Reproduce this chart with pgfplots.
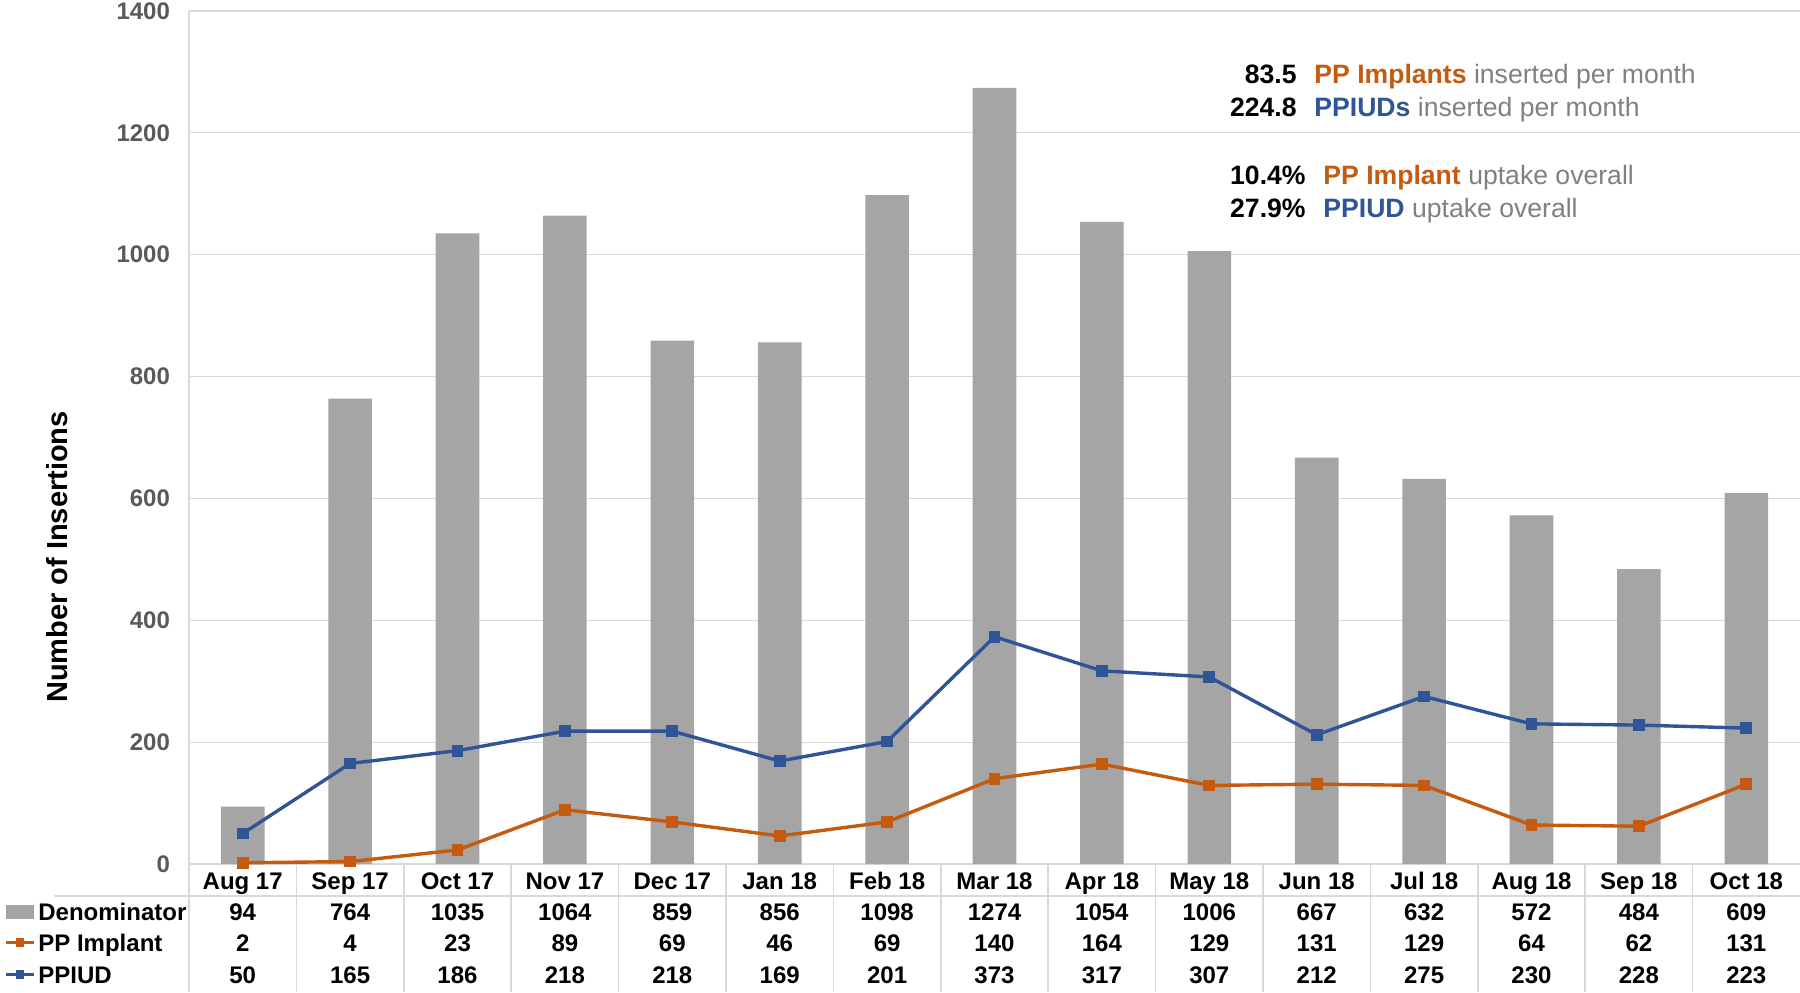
\documentclass[border=0pt]{standalone}
\usepackage{pgfplots}
\usepackage{pgfplotstable}
\pgfplotsset{compat=1.18}
\usepackage{fontspec}
\setmainfont{Liberation Sans}
\definecolor{barGray}{HTML}{A5A5A5}
\definecolor{impOr}{HTML}{C55A11}
\definecolor{iudBl}{HTML}{2F5597}
\definecolor{gridG}{HTML}{D9D9D9}
\definecolor{tickG}{HTML}{595959}
\definecolor{txtG}{HTML}{808080}
\pgfplotstableread{
x den imp iud
0 94 2 50
1 764 4 165
2 1035 23 186
3 1064 89 218
4 859 69 218
5 856 46 169
6 1098 69 201
7 1274 140 373
8 1054 164 317
9 1006 129 307
10 667 131 212
11 632 129 275
12 572 64 230
13 484 62 228
14 609 131 223
}\data
\begin{document}
\begin{tikzpicture}
\useasboundingbox (0,0) rectangle (900pt,496pt);
\begin{axis}[
  at={(94.5pt,64pt)}, anchor=south west,
  scale only axis, width=805.5pt, height=426.5pt,
  xmin=-0.5, xmax=14.5, ymin=0, ymax=1400,
  xtick=data,
  xticklabels={Aug 17,Sep 17,Oct 17,Nov 17,Dec 17,Jan 18,Feb 18,Mar 18,Apr 18,May 18,Jun 18,Jul 18,Aug 18,Sep 18,Oct 18},
  ytick={0,200,...,1400},
  major tick length=0pt,
  axis x line*=bottom, axis y line*=left,
  axis line style={gridG, line width=0.8pt},
  ymajorgrids, grid style={gridG, line width=0.6pt},
  clip=false,
  /pgf/number format/assume math mode=true,
  /pgf/number format/1000 sep={},
  yticklabel style={font=\bfseries\fontsize{12}{14}\selectfont, color=tickG, xshift=-6pt},
  xticklabel style={font=\bfseries\fontsize{12}{14}\selectfont, color=black, anchor=base, yshift=-12.55pt},
]
\addplot[ybar, bar width=21.8pt, fill=barGray, draw=none] table[x=x,y=den]{\data};
\addplot[color=impOr, line width=1.7pt, mark=square*, mark size=2.1pt] table[x=x,y=imp]{\data};
\addplot[color=iudBl, line width=1.7pt, mark=square*, mark size=2.1pt] table[x=x,y=iud]{\data};
% table grid lines
\pgfplotsinvokeforeach{-0.5,0.5,1.5,2.5,3.5,4.5,5.5,6.5,7.5,8.5,9.5,10.5,11.5,12.5,13.5}{
  \draw[gridG, line width=0.8pt] (axis cs:#1,0) -- ([yshift=-64pt]axis cs:#1,0);
}
\draw[gridG, line width=0.8pt] ([yshift=-16pt]axis cs:-0.5,0) ++(-94.5pt,0) -- ([yshift=-16pt]axis cs:14.5,0);
% table numbers
\pgfplotsinvokeforeach{0,...,14}{
  \pgfplotstablegetelem{#1}{den}\of\data
  \edef\tmp{\noexpand\node[font=\noexpand\bfseries\noexpand\fontsize{12}{14}\noexpand\selectfont, anchor=base] at ([yshift=-28.05pt]axis cs:#1,0) {\pgfplotsretval};}\tmp
  \pgfplotstablegetelem{#1}{imp}\of\data
  \edef\tmp{\noexpand\node[font=\noexpand\bfseries\noexpand\fontsize{12}{14}\noexpand\selectfont, anchor=base] at ([yshift=-43.55pt]axis cs:#1,0) {\pgfplotsretval};}\tmp
  \pgfplotstablegetelem{#1}{iud}\of\data
  \edef\tmp{\noexpand\node[font=\noexpand\bfseries\noexpand\fontsize{12}{14}\noexpand\selectfont, anchor=base] at ([yshift=-59.6pt]axis cs:#1,0) {\pgfplotsretval};}\tmp
}
\end{axis}
% y label
\node[rotate=90, font=\bfseries\fontsize{14.5}{16}\selectfont] at (28.7pt,217.5pt) {Number of Insertions};
% legend column of table
\fill[barGray] (3pt,36.5pt) rectangle (17pt,43.5pt);
\node[anchor=base west, inner sep=0pt, font=\bfseries\fontsize{12}{14}\selectfont] at (19pt,35.95pt) {Denominator};
\draw[impOr, line width=1.7pt] (3pt,24.75pt) -- (17pt,24.75pt);
\fill[impOr] (7.9pt,22.65pt) rectangle (12.1pt,26.85pt);
\node[anchor=base west, inner sep=0pt, font=\bfseries\fontsize{12}{14}\selectfont] at (19pt,20.45pt) {PP Implant};
\draw[iudBl, line width=1.7pt] (3pt,8.7pt) -- (17pt,8.7pt);
\fill[iudBl] (7.9pt,6.6pt) rectangle (12.1pt,10.8pt);
\node[anchor=base west, inner sep=0pt, font=\bfseries\fontsize{12}{14}\selectfont] at (19pt,4.4pt) {PPIUD};
% annotations
\begin{scope}[every node/.style={inner sep=0pt, font=\fontsize{13.3}{15}\selectfont}]
\node[anchor=base east] at (648.5pt,454.3pt) {\textbf{83.5}};
\node[anchor=base west] at (657pt,454.3pt) {\textbf{\color{impOr}PP Implants} \color{txtG}inserted per month};
\node[anchor=base east] at (648.5pt,437.8pt) {\textbf{224.8}};
\node[anchor=base west] at (657pt,437.8pt) {\textbf{\color{iudBl}PPIUDs} \color{txtG}inserted per month};
\node[anchor=base east] at (653pt,403.8pt) {\textbf{10.4\%}};
\node[anchor=base west] at (661.5pt,403.8pt) {\textbf{\color{impOr}PP Implant} \color{txtG}uptake overall};
\node[anchor=base east] at (653pt,387.3pt) {\textbf{27.9\%}};
\node[anchor=base west] at (661.5pt,387.3pt) {\textbf{\color{iudBl}PPIUD} \color{txtG}uptake overall};
\end{scope}
\end{tikzpicture}
\end{document}
